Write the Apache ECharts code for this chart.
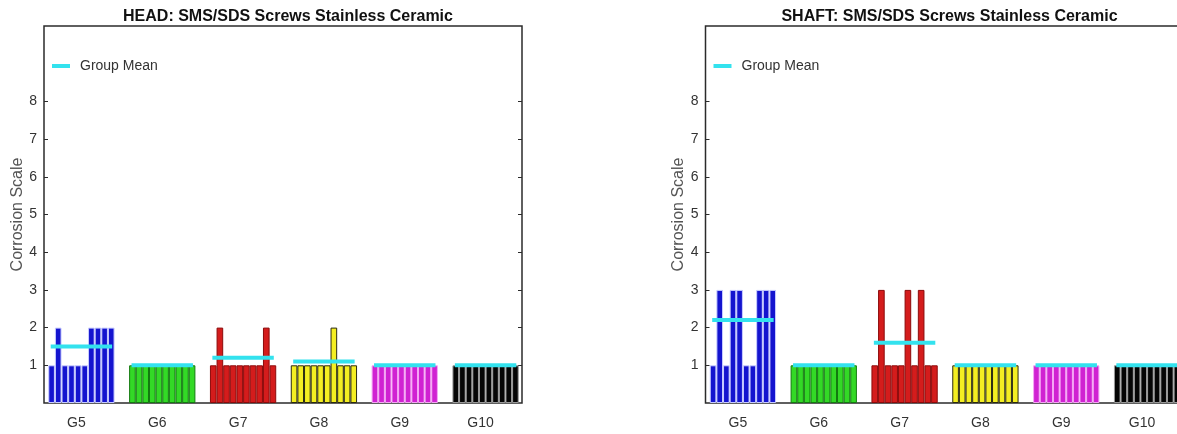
<!DOCTYPE html>
<html>
<head>
<meta charset="utf-8">
<title>SMS/SDS Screws Stainless Ceramic – Corrosion Scale</title>
<script src="https://cdn.jsdelivr.net/npm/echarts@6/dist/echarts.min.js"></script>
<style>
  html, body { margin: 0; padding: 0; background: #ffffff; overflow: hidden; }
  /* The drawing surface is a little wider than the window so the SHAFT frame runs off the right edge */
  #chart { width: 1200px; height: 434px; }
</style>
</head>
<body>
<div id="chart"></div>
<script>
// Screw groups shown along the x axis
const groups = ['G5', 'G6', 'G7', 'G8', 'G9', 'G10'];
// Labelled ticks on the corrosion scale
const yTicks = [1, 2, 3, 4, 5, 6, 7, 8];

// Corrosion scores per screw (10 screws per group) – HEAD
const headG5 = [1, 2, 1, 1, 1, 1, 2, 2, 2, 2];
const headG6 = [1, 1, 1, 1, 1, 1, 1, 1, 1, 1];
const headG7 = [1, 2, 1, 1, 1, 1, 1, 1, 2, 1];
const headG8 = [1, 1, 1, 1, 1, 1, 2, 1, 1, 1];
const headG9 = [1, 1, 1, 1, 1, 1, 1, 1, 1, 1];
const headG10 = [1, 1, 1, 1, 1, 1, 1, 1, 1, 1];

// Corrosion scores per screw (10 screws per group) – SHAFT
const shaftG5 = [1, 3, 1, 3, 3, 1, 1, 3, 3, 3];
const shaftG6 = [1, 1, 1, 1, 1, 1, 1, 1, 1, 1];
const shaftG7 = [1, 3, 1, 1, 1, 3, 1, 3, 1, 1];
const shaftG8 = [1, 1, 1, 1, 1, 1, 1, 1, 1, 1];
const shaftG9 = [1, 1, 1, 1, 1, 1, 1, 1, 1, 1];
const shaftG10 = [1, 1, 1, 1, 1, 1, 1, 1, 1, 1];

const headGroups = [headG5, headG6, headG7, headG8, headG9, headG10];
const shaftGroups = [shaftG5, shaftG6, shaftG7, shaftG8, shaftG9, shaftG10];

// Fill and separator colours for each group
const fillColors = ['#1414cf', '#33d926', '#d41c1c', '#f4ee22', '#d022d2', '#050505'];
const edgeColors = ['#c8ccff', '#137a10', '#8c0a0a', '#2a2a10', '#f4a6f4', '#9a9a9a'];
const meanColor = '#33e2ee';

const FONT = '"Liberation Sans", Arial, Helvetica, sans-serif';
const TEXT = '#333333';

const mean = arr => arr.reduce((s, v) => s + v, 0) / arr.length;

const chart = echarts.init(document.getElementById('chart'), null, { renderer: 'canvas' });

// Panel geometry: a framed box grid (axes, ticks) and a bar grid sharing the same y scale
const panels = [
  { title: 'HEAD: SMS/SDS Screws Stainless Ceramic', data: headGroups, boxLeft: 44, barLeft: 41 },
  { title: 'SHAFT: SMS/SDS Screws Stainless Ceramic', data: shaftGroups, boxLeft: 705.5, barLeft: 702.5 }
];
const TOP = 26, HEIGHT = 377, BOX_W = 478, BAR_W = 485;

const option = {
  animation: false,
  backgroundColor: '#ffffff',
  title: [],
  legend: [],
  grid: [],
  xAxis: [],
  yAxis: [],
  series: []
};

panels.forEach((p, pi) => {
  const boxGrid = pi * 2;
  const barGrid = pi * 2 + 1;

  option.title.push({
    text: p.title,
    left: p.boxLeft + BOX_W / 2,
    textAlign: 'center',
    top: 4,
    textStyle: { fontFamily: FONT, fontSize: 16, fontWeight: 'bold', color: '#111111' }
  });

  option.grid.push({
    left: p.boxLeft, top: TOP, width: BOX_W, height: HEIGHT,
    show: true, borderColor: '#2b2b2b', borderWidth: 1.5, backgroundColor: 'transparent'
  });
  option.grid.push({
    left: p.barLeft, top: TOP, width: BAR_W, height: HEIGHT, show: false
  });

  // Box grid axes: hidden x, labelled y on the left, tick-only y on the right
  option.xAxis.push({
    gridIndex: boxGrid, type: 'category', data: groups, show: false
  });
  option.yAxis.push({
    gridIndex: boxGrid, type: 'value', min: 0, max: 10, interval: 1,
    name: 'Corrosion Scale', nameLocation: 'middle', nameGap: 15,
    nameTextStyle: { fontFamily: FONT, fontSize: 16, color: '#555555' },
    axisLine: { show: false },
    axisTick: { show: true, inside: true, length: 4, customValues: yTicks,
                lineStyle: { color: '#2b2b2b', width: 1 } },
    axisLabel: { customValues: yTicks, margin: 7,
                 fontFamily: FONT, fontSize: 14, color: TEXT },
    splitLine: { show: false }
  });
  option.yAxis.push({
    gridIndex: boxGrid, type: 'value', min: 0, max: 10, interval: 1, position: 'right',
    axisLine: { show: false },
    axisTick: { show: true, inside: true, length: 4, customValues: yTicks,
                lineStyle: { color: '#2b2b2b', width: 1 } },
    axisLabel: { show: false },
    splitLine: { show: false }
  });

  // Bar grid axes
  option.xAxis.push({
    gridIndex: barGrid, type: 'category', data: groups,
    axisLine: { show: false }, axisTick: { show: false },
    axisLabel: { margin: 13, padding: [0, 10, 0, 0],
                 fontFamily: FONT, fontSize: 14, color: TEXT }
  });
  option.yAxis.push({
    gridIndex: barGrid, type: 'value', min: 0, max: 10, interval: 1, show: false
  });

  const xIdx = pi * 2 + 1;
  const yIdx = pi * 3 + 2;

  // One bar series per screw position, placed side by side inside each group
  for (let s = 0; s < 10; s++) {
    option.series.push({
      name: (pi === 0 ? 'head-' : 'shaft-') + s,
      type: 'bar',
      xAxisIndex: xIdx, yAxisIndex: yIdx,
      barGap: '0%',
      barCategoryGap: '18%',
      silent: true,
      data: p.data.map((g, gi) => ({
        value: g[s],
        itemStyle: { color: fillColors[gi], borderColor: edgeColors[gi], borderWidth: 1 }
      }))
    });
  }

  // Group mean markers
  option.series.push({
    name: 'Group Mean',
    type: 'custom',
    xAxisIndex: xIdx, yAxisIndex: yIdx,
    silent: true,
    z: 5,
    itemStyle: { color: meanColor },
    data: p.data.map((g, gi) => [gi, mean(g)]),
    renderItem: (params, api) => {
      const c = api.coord([api.value(0), api.value(1)]);
      const half = api.size([1, 0])[0] * 0.38;
      return {
        type: 'line',
        shape: { x1: c[0] - half, y1: c[1], x2: c[0] + half, y2: c[1] },
        style: { stroke: meanColor, lineWidth: 4 }
      };
    }
  });

  option.legend.push({
    data: ['Group Mean'],
    left: p.boxLeft + 8,
    top: 59,
    padding: 0,
    icon: 'rect',
    itemWidth: 18,
    itemHeight: 4,
    selectedMode: false,
    itemStyle: { color: meanColor },
    textStyle: { fontFamily: FONT, fontSize: 14, color: TEXT, padding: [0, 0, 0, 5] }
  });
});

chart.setOption(option);
</script>
</body>
</html>
